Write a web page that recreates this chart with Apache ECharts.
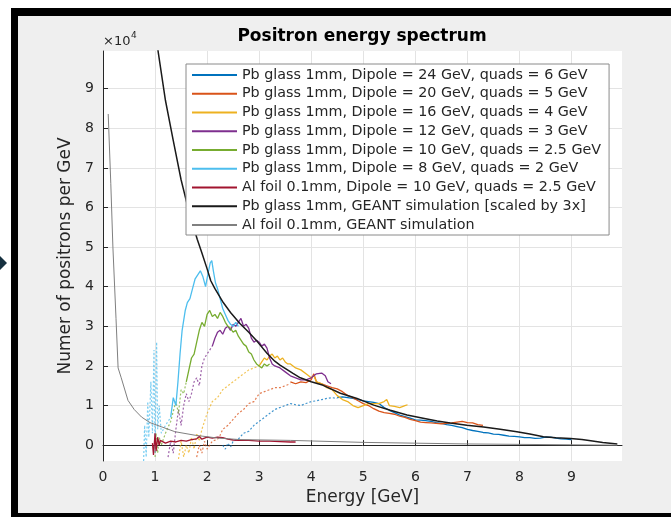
<!DOCTYPE html>
<html>
<head>
<meta charset="utf-8">
<script src="https://cdn.jsdelivr.net/npm/echarts@6/dist/echarts.min.js"></script>
<style>
body { margin: 0; background: #fff; }
.frame {
  position: absolute; left: 11px; top: 8px; width: 660px; height: 509px;
  box-sizing: border-box; background: #efefef;
  border-left: 7px solid #000; border-top: 8px solid #000; border-bottom: 4px solid #000;
}
.arrow {
  position: absolute; left: 0; top: 256px; width: 0; height: 0;
  border-left: 7px solid #15303f; border-top: 7px solid transparent; border-bottom: 7px solid transparent;
}
#chart { position: absolute; left: 0; top: 0; width: 671px; height: 517px; }
</style>
</head>
<body>
<div class="frame"></div>
<div class="arrow"></div>
<div id="chart"></div>
<script>
// values in units of 1e4 positrons per GeV, energy in GeV
const tickValues = [0, 1, 2, 3, 4, 5, 6, 7, 8, 9];

const names = [
  'Pb glass 1mm, Dipole = 24 GeV, quads = 6 GeV',
  'Pb glass 1mm, Dipole = 20 GeV, quads = 5 GeV',
  'Pb glass 1mm, Dipole = 16 GeV, quads = 4 GeV',
  'Pb glass 1mm, Dipole = 12 GeV, quads = 3 GeV',
  'Pb glass 1mm, Dipole = 10 GeV, quads = 2.5 GeV',
  'Pb glass 1mm, Dipole = 8 GeV, quads = 2 GeV',
  'Al foil 0.1mm, Dipole = 10 GeV, quads = 2.5 GeV',
  'Pb glass 1mm, GEANT simulation [scaled by 3x]',
  'Al foil 0.1mm, GEANT simulation'
];
const colors = ['#0072BD', '#D95319', '#EDB120', '#7E2F8E', '#77AC30', '#4DBEEE', '#A2142F', '#1a1a1a', '#808080'];

// Dipole 24 GeV
const d24Low = [[2.3,0.0],[2.35,-0.1],[2.4,0.05],[2.45,-0.05],[2.5,0.1],[2.6,0.15],[2.7,0.3],[2.8,0.35],[2.9,0.5],[3.0,0.6],[3.1,0.7],[3.2,0.8],[3.3,0.9],[3.4,0.95],[3.5,1.0],[3.6,1.05],[3.7,1.02],[3.8,1.0],[3.9,1.05],[4.0,1.1],[4.1,1.12],[4.2,1.15],[4.3,1.18],[4.4,1.2],[4.5,1.18]];
const d24 = [[4.5,1.2],[4.6,1.22],[4.7,1.2],[4.8,1.18],[4.9,1.15],[5.0,1.12],[5.1,1.1],[5.2,1.08],[5.3,1.05],[5.4,0.95],[5.5,0.88],[5.6,0.82],[5.7,0.76],[5.8,0.72],[5.9,0.68],[6.0,0.64],[6.1,0.63],[6.2,0.62],[6.3,0.6],[6.4,0.57],[6.5,0.55],[6.6,0.52],[6.7,0.5],[6.8,0.47],[6.9,0.44],[7.0,0.4],[7.1,0.37],[7.2,0.35],[7.3,0.32],[7.4,0.31],[7.5,0.28],[7.6,0.27],[7.7,0.25],[7.8,0.23],[7.9,0.22],[8.0,0.21],[8.1,0.19],[8.2,0.19],[8.3,0.17],[8.4,0.18],[8.5,0.2],[8.6,0.2],[8.7,0.18],[8.8,0.16],[8.9,0.15],[9.0,0.14]];
// Dipole 20 GeV
const d20Low = [[1.8,-0.3],[1.85,0.0],[1.9,-0.2],[1.95,0.1],[2.0,-0.1],[2.1,0.1],[2.2,0.15],[2.25,0.25],[2.3,0.4],[2.4,0.5],[2.5,0.65],[2.6,0.8],[2.7,0.9],[2.8,1.05],[2.9,1.1],[3.0,1.3],[3.1,1.35],[3.2,1.4],[3.3,1.45],[3.4,1.45],[3.5,1.5],[3.6,1.55]];
const d20 = [[3.6,1.6],[3.7,1.55],[3.8,1.6],[3.9,1.58],[4.0,1.65],[4.05,1.8],[4.1,1.6],[4.2,1.55],[4.3,1.5],[4.4,1.45],[4.5,1.42],[4.6,1.35],[4.7,1.25],[4.8,1.2],[4.9,1.12],[5.0,1.05],[5.1,1.0],[5.2,0.92],[5.3,0.86],[5.4,0.82],[5.5,0.8],[5.6,0.78],[5.7,0.73],[5.8,0.7],[5.9,0.65],[6.0,0.62],[6.1,0.58],[6.2,0.57],[6.3,0.56],[6.4,0.55],[6.5,0.54],[6.6,0.55],[6.7,0.56],[6.8,0.58],[6.9,0.6],[7.0,0.57],[7.1,0.56],[7.2,0.52],[7.3,0.5]];
// Dipole 16 GeV
const d16Low = [[1.45,-0.35],[1.5,0.1],[1.55,-0.3],[1.6,0.0],[1.65,-0.2],[1.7,0.2],[1.75,-0.1],[1.8,0.3],[1.85,0.1],[1.9,0.4],[1.95,0.6],[2.0,0.8],[2.05,0.95],[2.1,1.1],[2.2,1.2],[2.3,1.4],[2.4,1.5],[2.5,1.6],[2.6,1.7],[2.7,1.8],[2.8,1.9],[2.9,1.95],[3.0,2.0]];
const d16 = [[3.0,2.0],[3.05,2.1],[3.1,2.2],[3.15,2.15],[3.2,2.25],[3.25,2.3],[3.3,2.2],[3.35,2.25],[3.4,2.15],[3.45,2.2],[3.5,2.1],[3.55,2.05],[3.6,2.05],[3.7,1.95],[3.8,1.9],[3.9,1.8],[4.0,1.7],[4.05,1.75],[4.1,1.6],[4.2,1.55],[4.3,1.45],[4.4,1.4],[4.5,1.25],[4.6,1.15],[4.7,1.1],[4.8,1.0],[4.9,0.95],[5.0,1.0],[5.1,1.05],[5.2,1.05],[5.3,1.05],[5.4,1.1],[5.45,1.15],[5.5,1.0],[5.6,0.98],[5.7,0.95],[5.8,1.0],[5.85,1.02]];
// Dipole 12 GeV
const d12Low = [[1.25,-0.3],[1.3,0.1],[1.35,-0.2],[1.4,0.4],[1.45,0.9],[1.5,0.5],[1.55,1.0],[1.6,1.3],[1.65,1.1],[1.7,1.3],[1.75,1.6],[1.8,1.7],[1.85,1.5],[1.9,2.0],[1.95,2.2],[2.0,2.3],[2.1,2.5]];
const d12 = [[2.1,2.5],[2.15,2.7],[2.2,2.85],[2.25,2.9],[2.3,2.8],[2.35,2.95],[2.4,3.0],[2.45,2.9],[2.5,3.05],[2.55,3.0],[2.6,3.1],[2.65,3.2],[2.7,3.0],[2.75,3.05],[2.8,2.95],[2.85,2.7],[2.9,2.6],[2.95,2.65],[3.0,2.6],[3.05,2.5],[3.1,2.55],[3.15,2.45],[3.2,2.2],[3.25,2.05],[3.3,2.0],[3.4,1.95],[3.5,1.85],[3.6,1.75],[3.7,1.7],[3.8,1.65],[3.9,1.65],[4.0,1.7],[4.1,1.8],[4.2,1.82],[4.27,1.75],[4.32,1.6],[4.38,1.55]];
// Dipole 10 GeV
const d10Low = [[1.0,-0.3],[1.02,0.3],[1.05,-0.2],[1.08,0.2],[1.12,0.0],[1.2,0.3],[1.3,0.6],[1.4,1.1],[1.45,0.8],[1.5,1.4],[1.55,1.3],[1.6,1.6]];
const d10 = [[1.6,1.6],[1.65,1.9],[1.7,2.2],[1.75,2.3],[1.8,2.6],[1.85,2.9],[1.9,3.1],[1.95,3.0],[2.0,3.3],[2.05,3.4],[2.1,3.25],[2.15,3.3],[2.2,3.2],[2.25,3.35],[2.3,3.25],[2.35,3.1],[2.4,3.0],[2.45,2.95],[2.5,2.85],[2.55,2.9],[2.6,2.75],[2.65,2.65],[2.7,2.55],[2.75,2.5],[2.8,2.35],[2.85,2.3],[2.9,2.15],[2.95,2.05],[3.0,2.0],[3.05,1.95],[3.1,2.05],[3.15,2.0],[3.2,2.05]];
// Dipole 8 GeV
const d8Low = [[0.78,-0.4],[0.8,0.5],[0.83,-0.3],[0.86,1.1],[0.88,0.2],[0.92,1.6],[0.95,0.3],[0.98,2.4],[1.0,-0.2],[1.03,2.6],[1.05,0.4],[1.08,1.0],[1.12,0.3],[1.2,0.5],[1.3,0.7]];
const d8 = [[1.3,0.7],[1.35,1.2],[1.4,1.0],[1.44,1.6],[1.48,2.3],[1.52,2.9],[1.58,3.4],[1.62,3.6],[1.67,3.7],[1.72,3.95],[1.77,4.2],[1.82,4.3],[1.87,4.4],[1.92,4.25],[1.97,4.0],[2.02,4.35],[2.06,4.6],[2.09,4.66],[2.12,4.4],[2.16,4.1],[2.2,3.95],[2.25,3.7],[2.3,3.45],[2.35,3.3],[2.4,3.15],[2.45,3.05],[2.5,3.0],[2.55,3.1],[2.6,3.0]];
// Al foil, Dipole 10 GeV
const alFoil = [[0.95,0.05],[0.97,-0.25],[1.0,0.3],[1.02,-0.15],[1.05,0.2],[1.08,0.0],[1.1,0.12],[1.2,0.05],[1.3,0.1],[1.4,0.08],[1.5,0.12],[1.6,0.1],[1.7,0.14],[1.8,0.16],[1.85,0.22],[1.9,0.15],[2.0,0.2],[2.1,0.18],[2.2,0.2],[2.3,0.19],[2.4,0.15],[2.5,0.13],[2.6,0.12],[2.8,0.12],[3.0,0.1],[3.2,0.1],[3.4,0.09],[3.6,0.08],[3.7,0.08]];
// GEANT simulations
const geantPb = [[1.0,10.6],[1.06,9.93],[1.2,8.7],[1.35,7.69],[1.5,6.7],[1.65,5.9],[1.81,5.2],[1.9,4.85],[2.0,4.45],[2.07,4.15],[2.15,3.95],[2.31,3.6],[2.45,3.35],[2.63,3.07],[2.8,2.85],[2.96,2.62],[3.15,2.32],[3.3,2.12],[3.4,2.02],[3.65,1.81],[3.79,1.7],[4.0,1.6],[4.23,1.51],[4.56,1.31],[4.88,1.18],[5.2,1.01],[5.52,0.88],[5.84,0.76],[6.15,0.68],[6.42,0.61],[6.67,0.56],[6.99,0.5],[7.31,0.46],[7.63,0.4],[7.95,0.34],[8.2,0.28],[8.46,0.21],[8.7,0.19],[8.98,0.17],[9.2,0.14],[9.37,0.11],[9.6,0.07],[9.88,0.03]];
const geantAl = [[0.1,8.36],[0.15,6.6],[0.19,5.0],[0.25,3.2],[0.29,1.95],[0.35,1.7],[0.48,1.13],[0.6,0.9],[0.74,0.71],[0.9,0.57],[1.13,0.46],[1.38,0.34],[1.77,0.25],[2.2,0.18],[2.63,0.14],[3.6,0.12],[5.0,0.07],[7.0,0.03],[9.88,0.0]];

const solidData = [d24, d20, d16, d12, d10, d8, alFoil, geantPb, geantAl];
const lowData = [d24Low, d20Low, d16Low, d12Low, d10Low, d8Low];
const widths = [1.3, 1.3, 1.3, 1.3, 1.3, 1.3, 1.3, 1.5, 1];

const series = [];
lowData.forEach(function (d, i) {
  series.push({
    name: names[i] + ' ', type: 'line', data: d, symbol: 'none', silent: true,
    lineStyle: { color: colors[i], width: 1.2, type: [2, 2], opacity: 0.75 }
  });
});
solidData.forEach(function (d, i) {
  series.push({
    name: names[i], type: 'line', data: d, symbol: 'none', silent: true,
    color: colors[i],
    lineStyle: { color: colors[i], width: widths[i] }
  });
});

const font = 'DejaVu Sans';
const chart = echarts.init(document.getElementById('chart'), null, { renderer: 'canvas' });
chart.setOption({
  backgroundColor: 'transparent',
  animation: false,
  textStyle: { fontFamily: font },
  grid: { left: 103, right: 49, top: 51, bottom: 56, show: true, backgroundColor: '#fff', borderWidth: 0 },
  xAxis: {
    type: 'value', min: 0, max: 9.97,
    name: 'Energy [GeV]', nameLocation: 'middle', nameGap: 27,
    nameTextStyle: { fontFamily: font, fontSize: 17, color: '#262626' },
    axisLine: { lineStyle: { color: '#262626', width: 1 } },
    axisTick: { inside: true, length: 5, customValues: tickValues, lineStyle: { color: '#262626' } },
    axisLabel: { customValues: tickValues, fontFamily: font, fontSize: 14, color: '#262626', margin: 9 },
    splitLine: { show: true, lineStyle: { color: '#e3e3e3', width: 1 } }
  },
  yAxis: {
    type: 'value', min: -0.4, max: 9.95,
    name: 'Numer of positrons per GeV', nameLocation: 'middle', nameGap: 22, nameRotate: 90,
    nameTextStyle: { fontFamily: font, fontSize: 17, color: '#262626' },
    axisLine: { show: true, lineStyle: { color: '#262626', width: 1 } },
    axisTick: { show: true, inside: true, length: 5, customValues: tickValues, lineStyle: { color: '#262626' } },
    axisLabel: { customValues: tickValues, fontFamily: font, fontSize: 14, color: '#262626', margin: 9 },
    splitLine: { show: true, lineStyle: { color: '#e3e3e3', width: 1 } }
  },
  legend: {
    data: names, orient: 'vertical', left: 186, top: 64,
    padding: [4, 8, 3, 6], itemWidth: 45, itemHeight: 2, itemGap: 4.75,
    icon: 'rect',
    backgroundColor: '#fff', borderColor: '#8a8a8a', borderWidth: 1,
    textStyle: { fontFamily: font, fontSize: 14.3, color: '#262626', lineHeight: 14 },
    selectedMode: false
  },
  graphic: [
    { type: 'text', x: 362, y: 37, style: { text: 'Positron energy spectrum', font: 'bold 17px "DejaVu Sans"', fill: '#000', textAlign: 'center', textVerticalAlign: 'middle' } },
    { type: 'text', left: 103, top: 35, style: { text: '×10', font: '13px "DejaVu Sans"', fill: '#262626' } },
    { type: 'text', left: 131, top: 31, style: { text: '4', font: '9px "DejaVu Sans"', fill: '#262626' } }
  ],
  series: series
});
</script>
</body>
</html>
